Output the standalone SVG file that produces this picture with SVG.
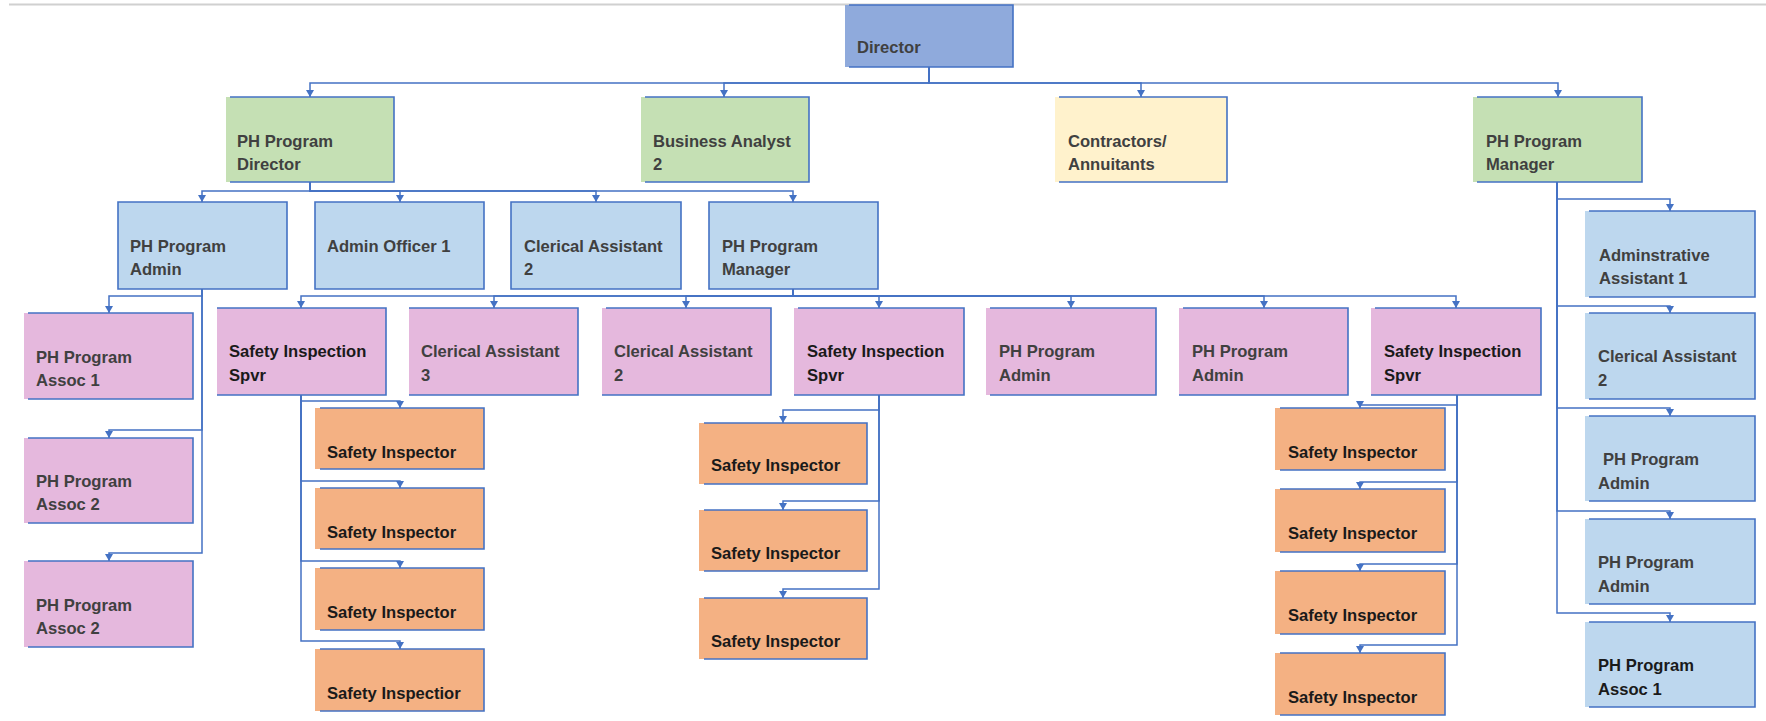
<svg xmlns="http://www.w3.org/2000/svg" width="1766" height="721" viewBox="0 0 1766 721">
<style>
text{font-family:"Liberation Sans",Arial,sans-serif;font-weight:bold;font-size:16.6px;fill:#404040}
.dk{fill:#1a1a1a}
.b{stroke:#4472c4;stroke-width:1.6;fill:none}
.c{stroke:#4472c4;stroke-width:1.5;fill:none;marker-end:url(#arr)}
.dir{fill:#8faadc}.grn{fill:#c5e0b4}.yel{fill:#fff2cc}.lb{fill:#bdd7ee}.pk{fill:#e5b8dd}.or{fill:#f4b183}
</style>
<defs>
<marker id="arr" viewBox="0 0 7 8" refX="7" refY="4" markerWidth="7" markerHeight="8" markerUnits="userSpaceOnUse" orient="auto"><path d="M0 0 L7 4 L0 8 z" fill="#4472c4"/></marker>
</defs>
<rect width="1766" height="721" fill="#fff"/>
<line x1="9" y1="4.5" x2="1766" y2="4.5" stroke="#d0d0d0" stroke-width="2"/>
<g id="connectors">
<path class="c" d="M929 67 V83 H310 V97"/>
<path class="c" d="M929 67 V83 H724 V97"/>
<path class="c" d="M929 67 V83 H1141 V97"/>
<path class="c" d="M929 67 V83 H1558 V97"/>
<path class="c" d="M310 182 V191 H202 V202"/>
<path class="c" d="M310 182 V191 H400 V202"/>
<path class="c" d="M310 182 V191 H596 V202"/>
<path class="c" d="M310 182 V191 H793 V202"/>
<path class="c" d="M1557 182 V199 H1670 V211"/>
<path class="c" d="M1557 182 V306 H1670 V313"/>
<path class="c" d="M1557 182 V408 H1670 V416"/>
<path class="c" d="M1557 182 V511 H1670 V519"/>
<path class="c" d="M1557 182 V613 H1670 V622"/>
<path class="c" d="M202 289 V296 H109 V313"/>
<path class="c" d="M202 289 V430 H109 V438"/>
<path class="c" d="M202 289 V553 H109 V561"/>
<path class="c" d="M793 289 V296 H301 V308"/>
<path class="c" d="M793 289 V296 H494 V308"/>
<path class="c" d="M793 289 V296 H686 V308"/>
<path class="c" d="M793 289 V296 H879 V308"/>
<path class="c" d="M793 289 V296 H1071 V308"/>
<path class="c" d="M793 289 V296 H1264 V308"/>
<path class="c" d="M793 289 V296 H1456 V308"/>
<path class="c" d="M301 395 V401 H400 V408"/>
<path class="c" d="M301 395 V481 H400 V488"/>
<path class="c" d="M301 395 V561 H400 V568"/>
<path class="c" d="M301 395 V641 H400 V649"/>
<path class="c" d="M879 395 V410 H783 V423"/>
<path class="c" d="M879 395 V501 H783 V510"/>
<path class="c" d="M879 395 V589 H783 V598"/>
<path class="c" d="M1457 395 V405 H1360 V408"/>
<path class="c" d="M1457 395 V482 H1360 V489"/>
<path class="c" d="M1457 395 V564 H1360 V571"/>
<path class="c" d="M1457 395 V645 H1360 V653"/>
</g>
<g id="director"><rect class="dir" x="845" y="5" width="168" height="62"/><path class="b" d="M849 5 H1013 V67 H849"/><text x="857" y="53">Director</text></g>
<g id="ph-program-director"><rect class="grn" x="226" y="97" width="168" height="85"/><path class="b" d="M230 97 H394 V182 H230"/><text x="237" y="147">PH Program</text><text x="237" y="170">Director</text></g>
<g id="business-analyst-2"><rect class="grn" x="641" y="97" width="168" height="85"/><path class="b" d="M645 97 H809 V182 H645"/><text x="653" y="147">Business Analyst</text><text x="653" y="170">2</text></g>
<g id="contractors"><rect class="yel" x="1055" y="97" width="172" height="85"/><path class="b" d="M1059 97 H1227 V182 H1059"/><text x="1068" y="147">Contractors/</text><text x="1068" y="170">Annuitants</text></g>
<g id="ph-program-manager-top"><rect class="grn" x="1473" y="97" width="169" height="85"/><path class="b" d="M1477 97 H1642 V182 H1477"/><text x="1486" y="147">PH Program</text><text x="1486" y="170">Manager</text></g>
<g id="ph-program-admin-l3"><rect class="lb" x="118" y="202" width="169" height="87"/><path class="b" d="M118 202 H287 V289 H118 Z"/><text x="130" y="252">PH Program</text><text x="130" y="275">Admin</text></g>
<g id="admin-officer-1"><rect class="lb" x="315" y="202" width="169" height="87"/><path class="b" d="M315 202 H484 V289 H315 Z"/><text x="327" y="252">Admin Officer 1</text></g>
<g id="clerical-assistant-2-l3"><rect class="lb" x="511" y="202" width="170" height="87"/><path class="b" d="M511 202 H681 V289 H511 Z"/><text x="524" y="252">Clerical Assistant</text><text x="524" y="275">2</text></g>
<g id="ph-program-manager-l3"><rect class="lb" x="709" y="202" width="169" height="87"/><path class="b" d="M709 202 H878 V289 H709 Z"/><text x="722" y="252">PH Program</text><text x="722" y="275">Manager</text></g>
<g id="ph-program-assoc-1-left"><rect class="pk" x="24" y="313" width="169" height="86"/><path class="b" d="M28 313 H193 V399 H28"/><text x="36" y="363">PH Program</text><text x="36" y="386">Assoc 1</text></g>
<g id="ph-program-assoc-2-a"><rect class="pk" x="24" y="438" width="169" height="85"/><path class="b" d="M28 438 H193 V523 H28"/><text x="36" y="487">PH Program</text><text x="36" y="510">Assoc 2</text></g>
<g id="ph-program-assoc-2-b"><rect class="pk" x="24" y="561" width="169" height="86"/><path class="b" d="M28 561 H193 V647 H28"/><text x="36" y="611">PH Program</text><text x="36" y="634">Assoc 2</text></g>
<g id="safety-spvr-1"><rect class="pk" x="217" y="308" width="169" height="87"/><path class="b" d="M217 308 H386 V395 H217"/><text class="dk" x="229" y="357">Safety Inspection</text><text class="dk" x="229" y="381">Spvr</text></g>
<g id="clerical-assistant-3"><rect class="pk" x="409" y="308" width="169" height="87"/><path class="b" d="M409 308 H578 V395 H409"/><text x="421" y="357">Clerical Assistant</text><text x="421" y="381">3</text></g>
<g id="clerical-assistant-2-l4"><rect class="pk" x="602" y="308" width="169" height="87"/><path class="b" d="M606 308 H771 V395 H602"/><text x="614" y="357">Clerical Assistant</text><text x="614" y="381">2</text></g>
<g id="safety-spvr-2"><rect class="pk" x="794" y="308" width="170" height="87"/><path class="b" d="M798 308 H964 V395 H794"/><text class="dk" x="807" y="357">Safety Inspection</text><text class="dk" x="807" y="381">Spvr</text></g>
<g id="ph-program-admin-l4a"><rect class="pk" x="986" y="308" width="170" height="87"/><path class="b" d="M990 308 H1156 V395 H990"/><text x="999" y="357">PH Program</text><text x="999" y="381">Admin</text></g>
<g id="ph-program-admin-l4b"><rect class="pk" x="1179" y="308" width="169" height="87"/><path class="b" d="M1183 308 H1348 V395 H1179"/><text x="1192" y="357">PH Program</text><text x="1192" y="381">Admin</text></g>
<g id="safety-spvr-3"><rect class="pk" x="1371" y="308" width="170" height="87"/><path class="b" d="M1375 308 H1541 V395 H1371"/><text class="dk" x="1384" y="357">Safety Inspection</text><text class="dk" x="1384" y="381">Spvr</text></g>
<g id="si-1a"><rect class="or" x="315" y="408" width="169" height="61"/><path class="b" d="M320 408 H484 V469 H320"/><text class="dk" x="327" y="458">Safety Inspector</text></g>
<g id="si-1b"><rect class="or" x="315" y="488" width="169" height="61"/><path class="b" d="M320 488 H484 V549 H320"/><text class="dk" x="327" y="538">Safety Inspector</text></g>
<g id="si-1c"><rect class="or" x="315" y="568" width="169" height="62"/><path class="b" d="M320 568 H484 V630 H320"/><text class="dk" x="327" y="618">Safety Inspector</text></g>
<g id="si-1d"><rect class="or" x="315" y="649" width="169" height="62"/><path class="b" d="M320 649 H484 V711 H320"/><text class="dk" x="327" y="699">Safety Inspectior</text></g>
<g id="si-2a"><rect class="or" x="699" y="423" width="168" height="61"/><path class="b" d="M704 423 H867 V484 H704"/><text class="dk" x="711" y="471">Safety Inspector</text></g>
<g id="si-2b"><rect class="or" x="699" y="510" width="168" height="61"/><path class="b" d="M704 510 H867 V571 H704"/><text class="dk" x="711" y="559">Safety Inspector</text></g>
<g id="si-2c"><rect class="or" x="699" y="598" width="168" height="61"/><path class="b" d="M704 598 H867 V659 H704"/><text class="dk" x="711" y="647">Safety Inspector</text></g>
<g id="si-3a"><rect class="or" x="1275" y="408" width="170" height="62"/><path class="b" d="M1280 408 H1445 V470 H1280"/><text class="dk" x="1288" y="458">Safety Inspector</text></g>
<g id="si-3b"><rect class="or" x="1275" y="489" width="170" height="63"/><path class="b" d="M1280 489 H1445 V552 H1280"/><text class="dk" x="1288" y="539">Safety Inspector</text></g>
<g id="si-3c"><rect class="or" x="1275" y="571" width="170" height="63"/><path class="b" d="M1280 571 H1445 V634 H1280"/><text class="dk" x="1288" y="621">Safety Inspector</text></g>
<g id="si-3d"><rect class="or" x="1275" y="653" width="170" height="62"/><path class="b" d="M1280 653 H1445 V715 H1280"/><text class="dk" x="1288" y="703">Safety Inspector</text></g>
<g id="adminstrative-assistant-1"><rect class="lb" x="1585" y="211" width="170" height="86"/><path class="b" d="M1589 211 H1755 V297 H1589"/><text x="1599" y="261">Adminstrative</text><text x="1599" y="284">Assistant 1</text></g>
<g id="clerical-assistant-2-right"><rect class="lb" x="1585" y="313" width="170" height="86"/><path class="b" d="M1589 313 H1755 V399 H1589"/><text x="1598" y="362">Clerical Assistant</text><text x="1598" y="386">2</text></g>
<g id="ph-program-admin-right-a"><rect class="lb" x="1585" y="416" width="170" height="85"/><path class="b" d="M1589 416 H1755 V501 H1589"/><text x="1603" y="465">PH Program</text><text x="1598" y="489">Admin</text></g>
<g id="ph-program-admin-right-b"><rect class="lb" x="1585" y="519" width="170" height="85"/><path class="b" d="M1589 519 H1755 V604 H1589"/><text x="1598" y="568">PH Program</text><text x="1598" y="592">Admin</text></g>
<g id="ph-program-assoc-1-right"><rect class="lb" x="1585" y="622" width="170" height="85"/><path class="b" d="M1589 622 H1755 V707 H1589"/><text class="dk" x="1598" y="671">PH Program</text><text class="dk" x="1598" y="695">Assoc 1</text></g>
</svg>
